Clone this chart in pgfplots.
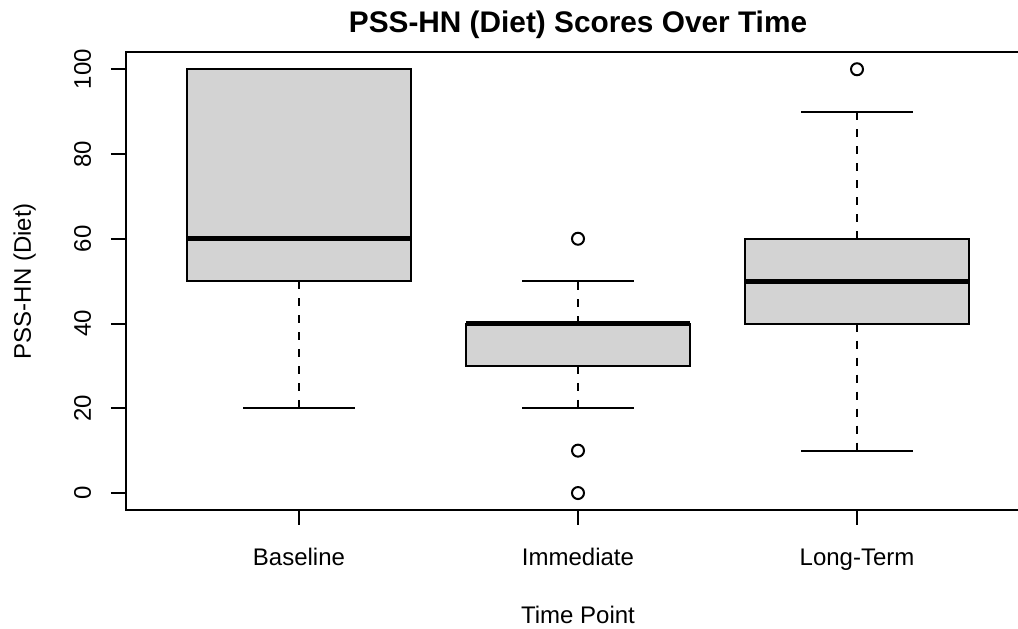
\documentclass[border=0pt]{standalone}
\usepackage{pgfplots}
\pgfplotsset{compat=1.18}
\usepgfplotslibrary{statistics}
\usepackage{fontspec}
\setmainfont{Liberation Sans}
\definecolor{boxgray}{HTML}{D3D3D3}
\pgfplotsset{
  boxplot/draw direction=y,
  boxplot/draw/lower whisker/.code={%
    \draw[black, line width=1pt, dash pattern=on 4pt off 4.5pt]
      (boxplot box cs:\pgfplotsboxplotvalue{lower quartile},0.5) -- (boxplot box cs:\pgfplotsboxplotvalue{lower whisker},0.5);
    \draw[black, line width=1pt]
      (boxplot whisker cs:\pgfplotsboxplotvalue{lower whisker},0) -- (boxplot whisker cs:\pgfplotsboxplotvalue{lower whisker},1);
  },
  boxplot/draw/upper whisker/.code={%
    \draw[black, line width=1pt, dash pattern=on 4pt off 4.5pt]
      (boxplot box cs:\pgfplotsboxplotvalue{upper quartile},0.5) -- (boxplot box cs:\pgfplotsboxplotvalue{upper whisker},0.5);
    \draw[black, line width=1pt]
      (boxplot whisker cs:\pgfplotsboxplotvalue{upper whisker},0) -- (boxplot whisker cs:\pgfplotsboxplotvalue{upper whisker},1);
  },
  boxplot/every box/.style={fill=boxgray, draw=black, line width=1pt},
  boxplot/every median/.style={line width=2.6pt, black},
}
\begin{document}
\begin{tikzpicture}
\begin{axis}[
  name=ax, scale only axis, width=452pt, height=228.85pt,
  xmin=0.38, xmax=3.62, ymin=-4, ymax=104,
  axis line style={line width=1pt, black},
  xtick={1,2,3}, xticklabels={Baseline,Immediate,Long-Term},
  ytick={0,20,40,60,80,100},
  tick align=outside, xtick pos=bottom, ytick pos=left,
  major tick length=7.5pt,
  tick style={line width=1pt, black},
  /pgf/number format/assume math mode=true,
  ticklabel style={font=\fontsize{12}{14}\selectfont},
  xticklabel style={anchor=base, yshift=-20.5pt},
  yticklabel style={rotate=90, anchor=base, yshift=10pt},
  title={PSS-HN (Diet) Scores Over Time},
  title style={at={(axis description cs:0.5,1)}, anchor=base, yshift=3.8pt, font=\bfseries\fontsize{14.9}{17}\selectfont},
  xlabel={Time Point},
  xlabel style={at={(axis description cs:0.5,0)}, anchor=base, yshift=-57pt, font=\fontsize{12}{14}\selectfont},
  ylabel={PSS-HN (Diet)},
  ylabel style={at={(axis description cs:0,0.5)}, anchor=base, yshift=47.5pt, font=\fontsize{12}{14}\selectfont},
]
\addplot[black, line width=1pt, mark=o, mark size=3pt,
  boxplot prepared={draw position=1, lower whisker=20, lower quartile=50, median=60,
    upper quartile=100, upper whisker=100, box extend=0.8, whisker extend=0.4}]
  coordinates {};
\addplot[black, line width=1pt, mark=o, mark size=3pt,
  boxplot prepared={draw position=2, lower whisker=20, lower quartile=30, median=40,
    upper quartile=40, upper whisker=50, box extend=0.8, whisker extend=0.4}]
  table[row sep=\\, y index=0] {v\\ 60\\ 10\\ 0\\};
\addplot[black, line width=1pt, mark=o, mark size=3pt,
  boxplot prepared={draw position=3, lower whisker=10, lower quartile=40, median=50,
    upper quartile=60, upper whisker=90, box extend=0.8, whisker extend=0.4}]
  table[row sep=\\, y index=0] {v\\ 100\\};
\end{axis}
\pgfresetboundingbox
\path[use as bounding box] ([xshift=-63pt,yshift=-59.5pt]ax.south west) rectangle ([xshift=-6pt,yshift=26.15pt]ax.north east);
\end{tikzpicture}
\end{document}
